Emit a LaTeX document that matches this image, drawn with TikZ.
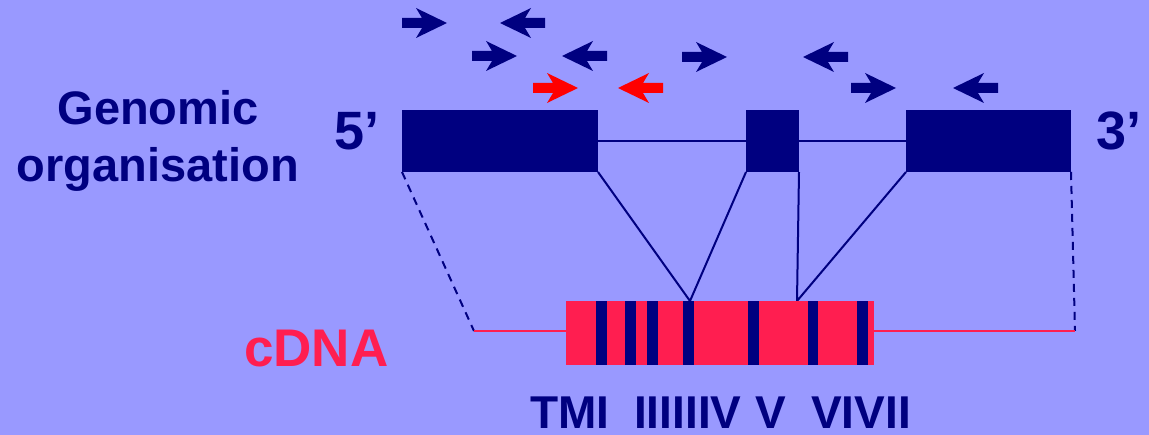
\documentclass[tikz,border=0pt]{standalone}
\usepackage{fontspec}
\setmainfont{Liberation Sans}
\definecolor{bg}{RGB}{153,153,255}
\definecolor{navy}{RGB}{0,0,128}
\definecolor{cred}{RGB}{255,30,80}
\definecolor{pred}{RGB}{255,0,0}
\tikzset{
  exon/.style={fill=navy, inner sep=0pt, outer sep=0pt, minimum height=62pt},
  band/.style={fill=navy, inner sep=0pt, outer sep=0pt, minimum width=11pt, minimum height=64pt},
  cdnabox/.style={fill=cred, inner sep=0pt, outer sep=0pt, minimum width=308pt, minimum height=64pt},
  link/.style={draw=navy, line width=2pt},
  dlink/.style={draw=navy, line width=2pt, dash pattern=on 8pt off 6pt},
  rline/.style={draw=cred, line width=2pt},
  lbl/.style={text=navy, font=\bfseries\fontsize{46}{46}\selectfont, inner sep=0pt, anchor=base west},
  endlbl/.style={text=navy, font=\bfseries\fontsize{54}{54}\selectfont, inner sep=0pt, anchor=base west},
  primer/.pic={\fill (0,-5)--(20,-5)--(14,-15)--(45,0)--(14,15)--(20,5)--(0,5)--cycle;}
}
\begin{document}
\begin{tikzpicture}[x=1pt, y=-1pt]
\fill[bg] (0,0) rectangle (1149,435);
\useasboundingbox (0,0) rectangle (1149,435);

% primers
\pic[navy] (p1) at (402,23) {primer};
\pic[navy, xscale=-1] (p2) at (545,23) {primer};
\pic[navy] (p3) at (472,56) {primer};
\pic[navy, xscale=-1] (p4) at (607,56) {primer};
\pic[navy] (p5) at (682,57) {primer};
\pic[navy, xscale=-1] (p6) at (848,57) {primer};
\pic[pred] (p7) at (533,88) {primer};
\pic[pred, xscale=-1] (p8) at (663,88) {primer};
\pic[navy] (p9) at (851,88) {primer};
\pic[navy, xscale=-1] (p10) at (998,88) {primer};

% labels
\node[text=navy, font=\bfseries\fontsize{47}{57}\selectfont, align=center, inner sep=0pt] (gen) at (158,141) {Genomic\\organisation};
\node[endlbl] (five) at (334,150) {5’};
\node[endlbl] (three) at (1096,150) {3’};
\node[text=cred, font=\bfseries\fontsize{53}{53}\selectfont, inner sep=0pt, anchor=base west] (cdna) at (244,367) {cDNA};

% exons
\node[exon, minimum width=196pt] (e1) at (500,141) {};
\node[exon, minimum width=53pt] (e2) at (772.5,141) {};
\node[exon, minimum width=165pt] (e3) at (988.5,141) {};

\coordinate (j1) at (690,301);
\coordinate (j2) at (797,301);
\coordinate (l5) at (474,331);
\coordinate (r3) at (1075,331);

\draw[link] (e1.east) -- (e2.west);
\draw[link] (e2.east) -- (e3.west);
\draw[link] (e1.south east) -- (j1) -- (e2.south west);
\draw[link] (e2.south east) -- (j2) -- (e3.south west);
\draw[dlink] (e1.south west) -- (l5);
\draw[dlink] (e3.south east) -- (r3);

% cDNA
\node[cdnabox] (cd) at (720,333) {};
\draw[rline] (l5) -- (l5 -| cd.west);
\draw[rline] (cd.east |- r3) -- (r3);
\node[band] (b1) at (601.5,333) {};
\node[band] (b2) at (630.5,333) {};
\node[band] (b3) at (652.5,333) {};
\node[band] (b4) at (688.5,333) {};
\node[band] (b5) at (753.5,333) {};
\node[band, minimum width=10pt] (b6) at (813,333) {};
\node[band] (b7) at (862.5,333) {};

% TM labels
\node[lbl] (t1) at (530,429) {TMI};
\node[lbl] (t2) at (634,429) {IIIIIIV};
\node[lbl] (t3) at (755,429) {V};
\node[lbl] (t4) at (811,429) {VIVII};
\end{tikzpicture}
\end{document}
